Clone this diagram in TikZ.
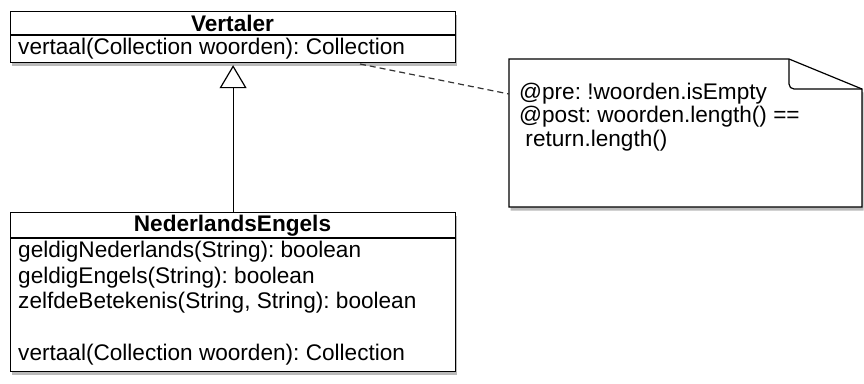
\documentclass[tikz,border=0pt]{standalone}
\usepackage{fontspec}
\setmainfont{Liberation Sans}
\usetikzlibrary{shadows,arrows.meta}
\frenchspacing
\tikzset{
  umlshadow/.style={drop shadow={shadow xshift=1.5pt, shadow yshift=-3.5pt, opacity=0.45, fill=black!60}},
  classbox/.style={draw, line width=1.2pt, fill=white, inner sep=0pt, anchor=north west, umlshadow},
  txt/.style={anchor=west, inner sep=0pt, font=\fontsize{22.6}{23}\selectfont},
  head/.style={inner sep=0pt, font=\fontsize{22.6}{24}\selectfont\bfseries},
  sep/.style={line width=1.2pt},
}
\begin{document}
\begin{tikzpicture}[x=1pt,y=-1pt]
\useasboundingbox (0,0) rectangle (864,383);
% Vertaler
\node[classbox, minimum width=445pt, minimum height=51pt] (vert) at (10,11) {};
\draw[sep] (10,35) -- (455,35);
\node[head] (vname) at (232.5,23.5) {Vertaler};
\node[txt] (vop) at (18,49) {vertaal(Collection woorden): Collection};
% NederlandsEngels
\node[classbox, minimum width=445pt, minimum height=159pt] (ne) at (10,212) {};
\draw[sep] (10,238) -- (455,238);
\node[head] (nename) at (232.5,225.5) {NederlandsEngels};
\node[txt] (n1) at (18,252) {geldigNederlands(String): boolean};
\node[txt] (n2) at (18,277.5) {geldigEngels(String): boolean};
\node[txt] (n3) at (18,303) {zelfdeBetekenis(String, String): boolean};
\node[txt] (n4) at (18,355) {vertaal(Collection woorden): Collection};
% generalization
\draw[line width=1.2pt, -{Triangle[open, length=23pt, width=27pt, line width=1.2pt]}, shorten >=2pt] (ne.north) -- (vert.south);
% note
\draw[line width=1.2pt, fill=white, umlshadow] (509,59) -- (789,59) -- (862,89) -- (862,207) -- (509,207) -- cycle;
\draw[line width=1.2pt] (789,59) -- (789,84) to[out=-90,in=180] (794,89) -- (862,89);
\node[txt, anchor=north west] (note) at (519,83) {\begin{tabular}{@{}l@{}}@pre: !woorden.isEmpty\\@post: woorden.length() ==\\\ return.length()\end{tabular}};
\coordinate (dstart) at (360,64);
\coordinate (dend) at (509,94);
\draw[line width=1.2pt, black!80, dash pattern=on 6pt off 4pt] (dstart) -- (dend);
\end{tikzpicture}
\end{document}
